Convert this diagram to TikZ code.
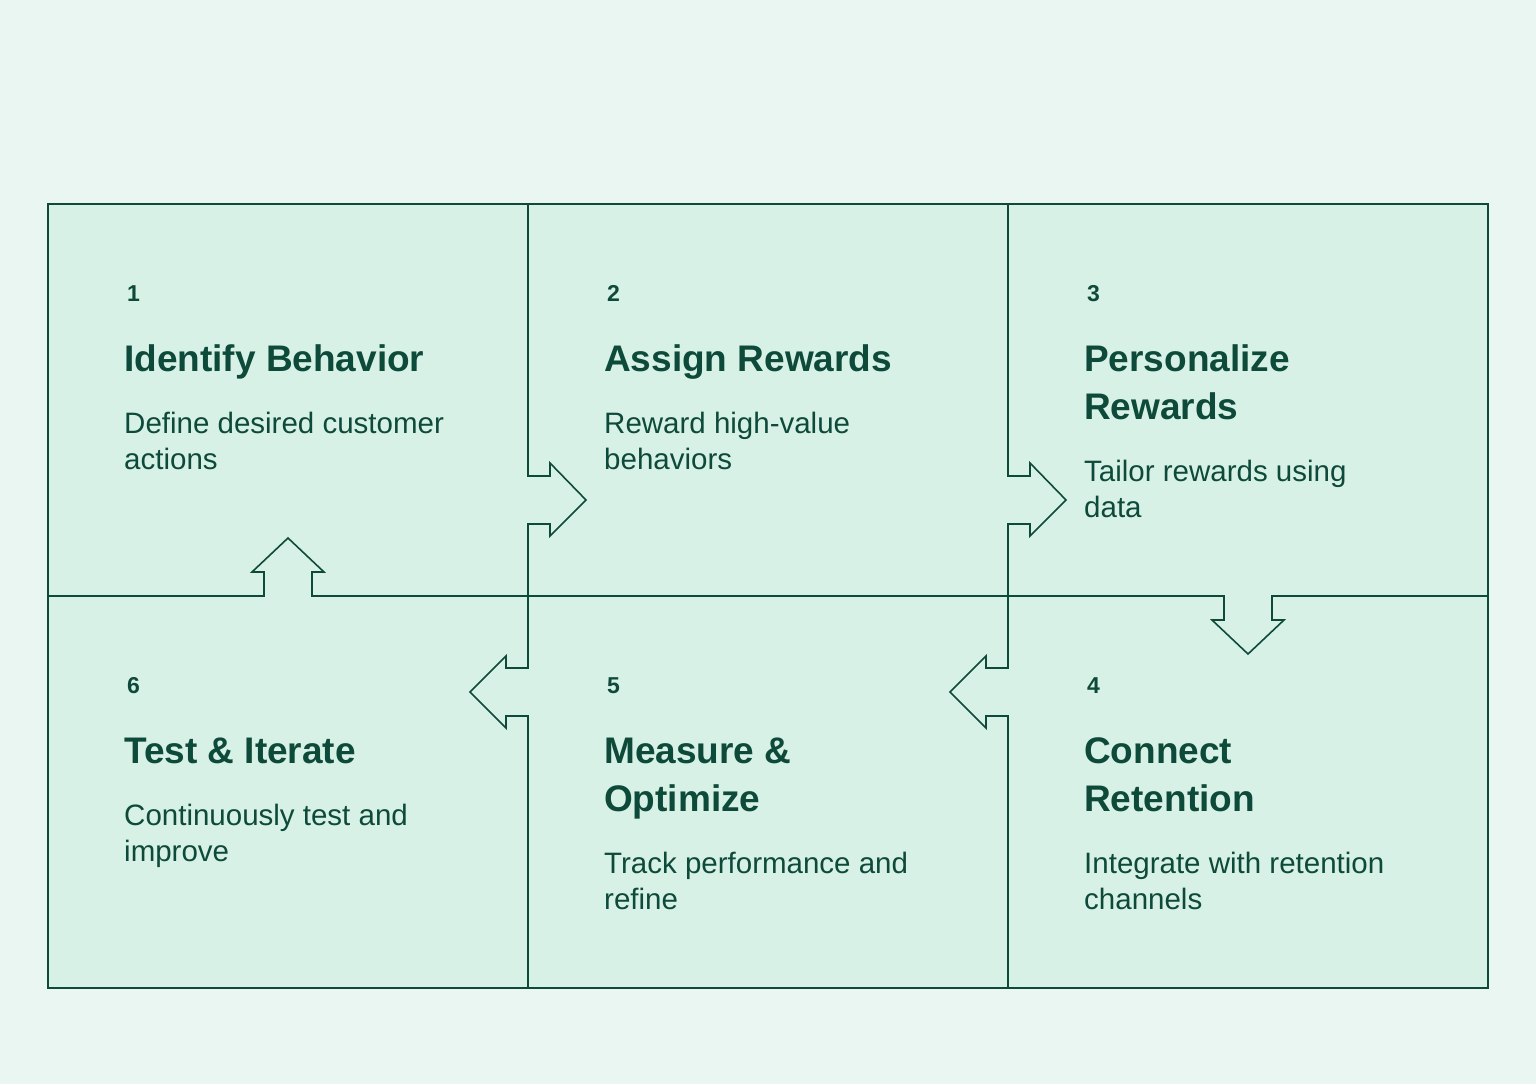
\documentclass[tikz,border=0pt]{standalone}
\usepackage{fontspec}
\setmainfont{Liberation Sans}
\definecolor{bg}{HTML}{EAF6F1}
\definecolor{cell}{HTML}{D8F1E6}
\definecolor{ln}{HTML}{0E4A3A}
\begin{document}
\begin{tikzpicture}[x=1pt,y=-1pt,
  num/.style={anchor=base west,inner sep=0,font=\fontsize{23}{26}\selectfont\bfseries,text=ln},
  ttl/.style={anchor=base west,inner sep=0,font=\fontsize{37}{48}\selectfont\bfseries,text=ln,align=left},
  body/.style={anchor=base west,inner sep=0,font=\fontsize{29.5}{36}\selectfont,text=ln,align=left},
  grid/.style={draw=ln,line width=1.6pt,line join=miter}]
\fill[bg] (0,0) rectangle (1536,1084);
\useasboundingbox (0,0) rectangle (1536,1084);
\draw[grid,fill=cell] (48,204) rectangle (1488,988);
% horizontal divider
\draw[grid] (48,596)--(264,596)--(264,572)--(252,572)--(288,538)--(324,572)--(312,572)--(312,596)
  --(1224,596)--(1224,620)--(1212,620)--(1248,654)--(1284,620)--(1272,620)--(1272,596)--(1488,596);
% vertical dividers
\foreach \dx in {0,480}{
\draw[grid,shift={(\dx,0)}] (528,204)--(528,476)--(550,476)--(550,463)--(586,500)--(550,536)--(550,524)--(528,524)
  --(528,668)--(506,668)--(506,656)--(470,692)--(506,728)--(506,716)--(528,716)--(528,988);
}
% texts
\node[num] (n1) at (127,301) {1};
\node[ttl] (t1) at (124,371) {Identify Behavior};
\node[body] (b1) at (124,469) {Define desired customer\\actions};
\node[num] (n2) at (607,301) {2};
\node[ttl] (t2) at (604,371) {Assign Rewards};
\node[body] (b2) at (604,469) {Reward high-value\\behaviors};
\node[num] (n3) at (1087,301) {3};
\node[ttl] (t3) at (1084,419) {Personalize\\Rewards};
\node[body] (b3) at (1084,517) {Tailor rewards using\\data};
\node[num] (n6) at (127,693) {6};
\node[ttl] (t6) at (124,763) {Test \& Iterate};
\node[body] (b6) at (124,861) {Continuously test and\\improve};
\node[num] (n5) at (607,693) {5};
\node[ttl] (t5) at (604,811) {Measure \&\\Optimize};
\node[body] (b5) at (604,909) {Track performance and\\refine};
\node[num] (n4) at (1087,693) {4};
\node[ttl] (t4) at (1084,811) {Connect\\Retention};
\node[body] (b4) at (1084,909) {Integrate with retention\\channels};
\end{tikzpicture}
\end{document}
